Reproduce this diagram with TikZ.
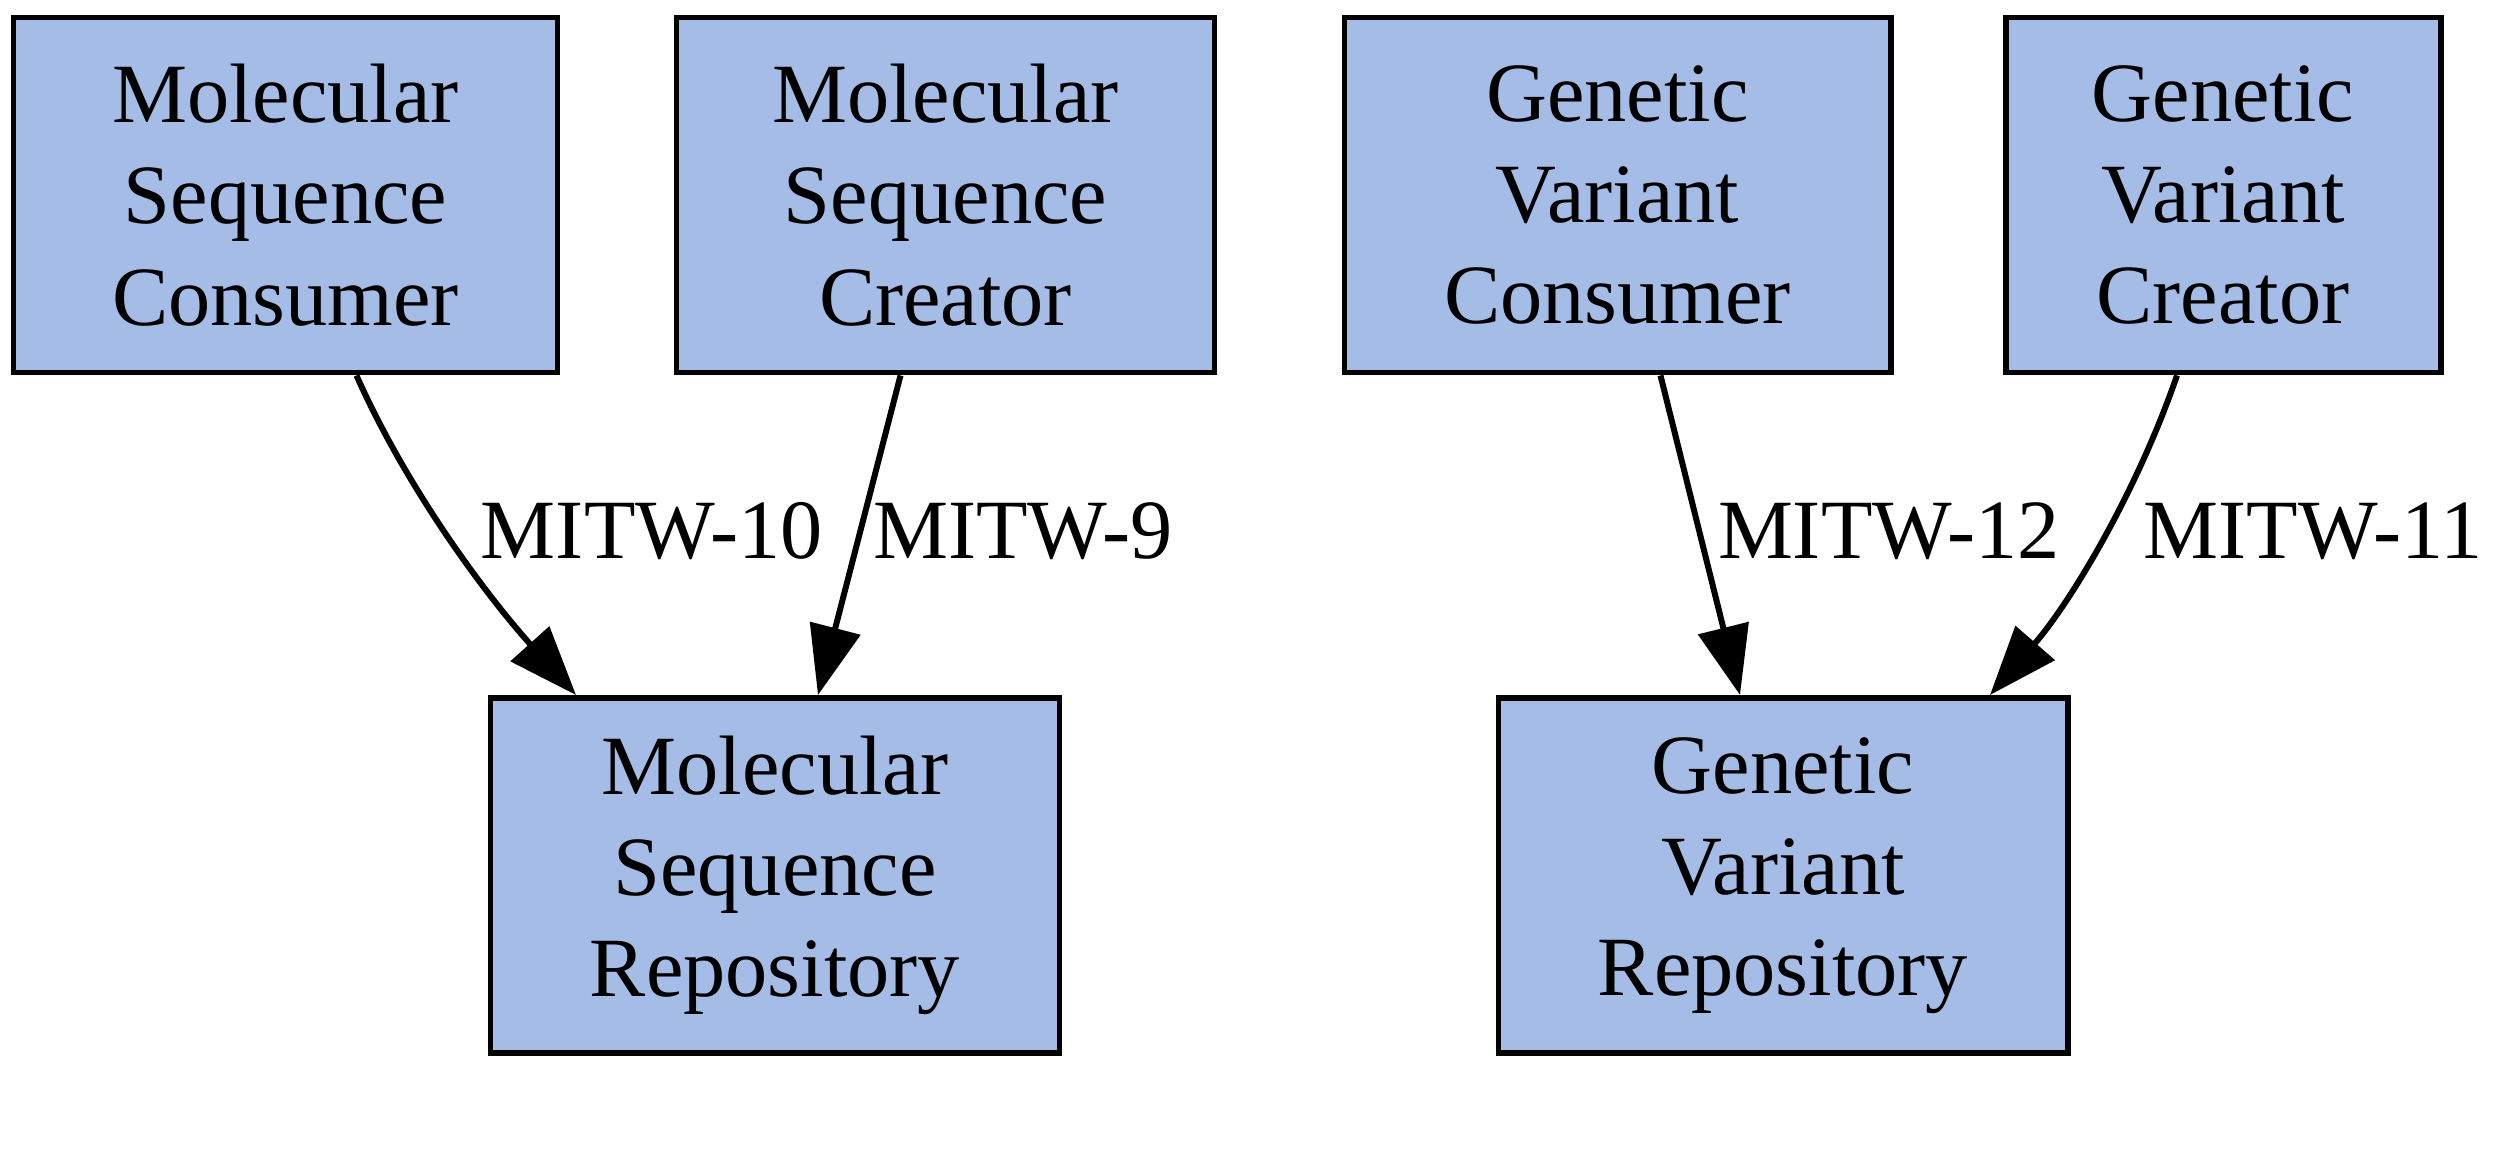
\documentclass[tikz,border=0pt]{standalone}
\usepackage{fontspec}
\setmainfont{Liberation Serif}
\usetikzlibrary{arrows.meta}
\definecolor{boxblue}{RGB}{165,188,230}
\tikzset{
  comp/.style={draw, fill=boxblue, line width=1.7pt, align=center, inner sep=0pt,
    minimum height=3.55cm, font=\fontsize{24}{28.8}\selectfont},
  lbl/.style={font=\fontsize{24}{28.8}\selectfont, inner sep=0pt},
  dep/.style={-{Triangle[length=6.9mm,width=5.1mm]}, line width=1.7pt}
}
\begin{document}
\begin{tikzpicture}
				\useasboundingbox (0,0) rectangle (25.10,-11.64);

				\node[comp, minimum width=5.44cm] (msc) at (2.855,-1.95)   {Molecular\\Sequence\\Consumer};
				\node[comp, minimum width=5.38cm] (mscr) at (9.455,-1.95)  {Molecular\\Sequence\\Creator};
				\node[comp, minimum width=5.46cm] (gvc) at (16.175,-1.95)  {Genetic\\Variant\\Consumer};
				\node[comp, minimum width=4.35cm] (gvcr) at (22.23,-1.95)  {Genetic\\Variant\\Creator};
				\node[comp, minimum width=5.69cm] (msr) at (7.75,-8.755)   {Molecular\\Sequence\\Repository};
				\node[comp, minimum width=5.69cm] (gvr) at (17.83,-8.755)  {Genetic\\Variant\\Repository};

				\node[lbl] (l10) at (6.52,-5.31)  {MITW-10};
				\node[lbl] (l9) at (10.23,-5.31)  {MITW-9};
				\node[lbl] (l12) at (18.89,-5.31) {MITW-12};
				\node[lbl] (l11) at (23.13,-5.31) {MITW-11};

				\path [dep] ([xshift=7.1mm]msc.south) edge[out=-66, in=132, looseness=0.85] ([xshift=-19.9mm]msr.north);
				\path [dep] ([xshift=-4.5mm]mscr.south) edge ([xshift=4.3mm]msr.north);
				\path [dep] ([xshift=4.3mm]gvc.south) edge ([xshift=-4.3mm]gvr.north);
				\path [dep] ([xshift=-4.6mm]gvcr.south) edge[out=-109, in=49, looseness=0.85] ([xshift=20.7mm]gvr.north);
			\end{tikzpicture}
\end{document}
